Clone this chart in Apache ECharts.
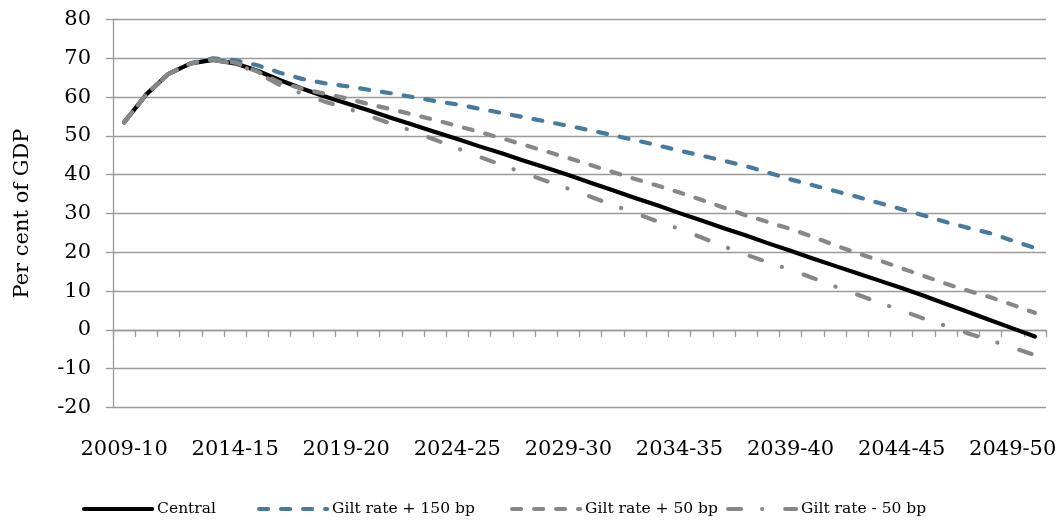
<!DOCTYPE html>
<html>
<head>
<meta charset="utf-8">
<script src="https://cdn.jsdelivr.net/npm/echarts@6/dist/echarts.min.js"></script>
<style>
html,body{margin:0;padding:0;background:#fff;overflow:hidden;}
#chart{width:1064px;height:524px;}
</style>
</head>
<body>
<div id="chart"></div>
<script>
const categories = ["2009-10","2010-11","2011-12","2012-13","2013-14","2014-15","2015-16","2016-17","2017-18","2018-19",
"2019-20","2020-21","2021-22","2022-23","2023-24","2024-25","2025-26","2026-27","2027-28","2028-29",
"2029-30","2030-31","2031-32","2032-33","2033-34","2034-35","2035-36","2036-37","2037-38","2038-39",
"2039-40","2040-41","2041-42","2042-43","2043-44","2044-45","2045-46","2046-47","2047-48","2048-49",
"2049-50","2050-51"];

const central = [53.5,60.7,66.0,68.7,69.6,68.7,66.8,64.4,62.2,60.2,
58.4,56.6,54.7,52.9,51.0,49.2,47.3,45.5,43.6,41.8,
39.9,37.9,36.0,34.0,32.1,30.1,28.2,26.2,24.3,22.3,
20.4,18.4,16.5,14.6,12.7,10.8,8.8,6.7,4.6,2.5,
0.4,-1.7];

const gilt150 = [53.5,60.7,66.0,68.7,70.0,69.5,68.2,66.3,64.7,63.6,
62.8,61.9,61.0,60.0,59.0,58.1,57.0,55.9,54.8,53.7,
52.6,51.4,50.2,48.9,47.6,46.2,44.9,43.6,42.2,40.5,
38.8,37.3,35.8,34.3,32.7,31.1,29.5,27.8,26.3,24.9,
23.0,21.1];

const gilt50 = [53.5,60.7,66.0,68.7,69.7,68.9,66.6,63.8,62.2,60.9,
59.7,58.2,56.9,55.5,54.1,52.6,51.0,49.4,47.7,46.0,
44.3,42.5,40.7,38.9,37.2,35.4,33.5,31.5,29.5,27.8,
26.0,24.0,21.8,19.8,17.9,15.9,13.9,11.9,10.1,8.4,
6.45,4.4];

const giltMinus50 = [53.5,60.7,66.0,68.7,69.6,68.6,66.3,63.1,60.9,58.9,
57.2,55.2,53.2,51.2,49.0,46.8,44.6,42.5,40.4,38.4,
36.4,34.3,32.2,30.1,28.0,26.0,23.8,21.5,19.4,17.4,
15.5,13.4,11.2,9.1,7.0,5.0,2.9,1.0,-0.9,-2.7,
-4.55,-6.5];

const seriesNames = ["Central","Gilt rate + 150 bp","Gilt rate + 50 bp","Gilt rate - 50 bp"];
const yTitle = "Per cent of GDP";

const FONT = "DejaVu Serif";
const gridColor = "#9a9a9a";

const chart = echarts.init(document.getElementById('chart'), null, {renderer:'canvas'});

function legendFor(name, left){
  return {
    data:[name], left:left, top:501, padding:0, itemWidth:68, itemHeight:20, itemGap:6,
    itemStyle:{opacity:0},
    lineStyle:{width:4.2},
    textStyle:{fontFamily:FONT, fontSize:15.5, color:'#000'}
  };
}

chart.setOption({
  animation:false,
  backgroundColor:'#fff',
  grid:{left:113, right:18, top:19.5, bottom:116.5, containLabel:false, outerBoundsMode:'none'},
  legend:[
    legendFor(seriesNames[0], 82),
    legendFor(seriesNames[1], 257),
    legendFor(seriesNames[2], 510),
    legendFor(seriesNames[3], 726)
  ],
  xAxis:{
    type:'category', data:categories, boundaryGap:true,
    axisLine:{onZero:true, lineStyle:{color:gridColor, width:1.3}},
    axisTick:{show:true, interval:0, length:7, lineStyle:{color:gridColor, width:1.3}},
    axisLabel:{interval:4, margin:32, fontFamily:FONT, fontSize:21, color:'#000'},
    splitLine:{show:false}
  },
  yAxis:{
    type:'value', min:-20, max:80, interval:10,
    name:yTitle, nameLocation:'middle', nameGap:80, nameRotate:90,
    nameTextStyle:{fontFamily:FONT, fontSize:21, color:'#000'},
    axisLine:{show:true, lineStyle:{color:gridColor, width:1.3}},
    axisTick:{show:true, length:7, lineStyle:{color:gridColor, width:1.3}},
    axisLabel:{margin:22, fontFamily:FONT, fontSize:21, color:'#000'},
    splitLine:{show:true, lineStyle:{color:gridColor, width:1.3}}
  },
  series:[
    {name:seriesNames[0], type:'line', data:central, symbol:'none',
     lineStyle:{color:'#000', width:4.2, cap:'round', join:'round'}, itemStyle:{color:'#000'}},
    {name:seriesNames[1], type:'line', data:gilt150, symbol:'none',
     lineStyle:{color:'#477a9c', width:4.2, type:[9,13], cap:'round', join:'round'}, itemStyle:{color:'#477a9c'}},
    {name:seriesNames[2], type:'line', data:gilt50, symbol:'none',
     lineStyle:{color:'#878787', width:4.2, type:[9,13], cap:'round', join:'round'}, itemStyle:{color:'#878787'}},
    {name:seriesNames[3], type:'line', data:giltMinus50, symbol:'none',
     lineStyle:{color:'#878787', width:4.2, type:[13,21,0.1,23], cap:'round', join:'round'}, itemStyle:{color:'#878787'}}
  ]
});
</script>
</body>
</html>
